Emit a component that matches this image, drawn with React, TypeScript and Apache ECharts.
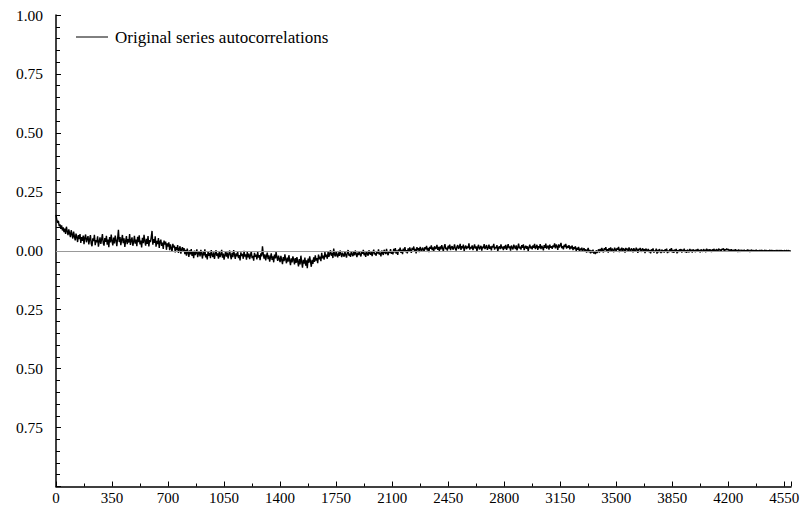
import React, { useEffect, useRef } from "react";
import * as echarts from "echarts";

const seriesName = "Original series autocorrelations";
const lagStep = 5;
const xTickValues = [0, 350, 700, 1050, 1400, 1750, 2100, 2450, 2800, 3150, 3500, 3850, 4200, 4550];
const yTickValues = [1.0, 0.75, 0.5, 0.25, 0.0, -0.25, -0.5, -0.75, -1.0];

// autocorrelation at lags 0, 5, 10, ... 4590, one row per 100 lags
const acfValues = [
  0.152, 0.131, 0.118, 0.127, 0.104, 0.112, 0.093, 0.108, 0.086, 0.099, 0.079, 0.094, 0.071, 0.102, 0.083, 0.066, 0.091, 0.074, 0.058, 0.087,
  0.069, 0.052, 0.081, 0.061, 0.044, 0.073, 0.058, 0.037, 0.066, 0.049, 0.071, 0.033, 0.058, 0.042, 0.064, 0.028, 0.055, 0.069, 0.036, 0.051,
  0.062, 0.027, 0.048, 0.066, 0.031, 0.019, 0.053, 0.041, 0.068, 0.024, 0.045, 0.036, 0.061, 0.017, 0.039, 0.057, 0.029, 0.048, 0.071, 0.033,
  0.022, 0.054, 0.038, 0.063, 0.026, 0.047, 0.015, 0.058, 0.035, 0.069, 0.041, 0.023, 0.056, 0.031, 0.064, 0.044, 0.019, 0.052, 0.089, 0.037,
  0.058, 0.024, 0.046, 0.067, 0.032, 0.053, 0.016, 0.041, 0.062, 0.028, 0.049, 0.035, 0.071, 0.025, 0.044, 0.057, 0.021, 0.038, 0.063, 0.030,
  0.047, 0.019, 0.059, 0.036, 0.065, 0.027, 0.043, 0.014, 0.055, 0.032, 0.068, 0.041, 0.022, 0.051, 0.029, 0.062, 0.018, 0.045, 0.037, 0.058,
  0.084, 0.026, 0.049, 0.033, 0.061, 0.017, 0.042, 0.028, 0.054, 0.012, 0.038, 0.047, 0.021, 0.035, 0.008, 0.043, 0.026, 0.039, 0.004, 0.031,
  0.018, 0.036, 0.002, 0.027, 0.011, -0.004, 0.029, 0.014, 0.022, -0.007, 0.016, 0.003, 0.024, -0.009, 0.008, 0.019, -0.012, 0.006, 0.015, -0.005,
  0.011, -0.014, 0.004, -0.021, 0.009, -0.008, -0.026, 0.002, -0.015, 0.007, -0.022, -0.003, -0.031, 0.001, -0.018, -0.009, 0.006, -0.027, -0.011, -0.002,
  -0.024, 0.004, -0.012, -0.033, -0.006, -0.019, 0.006, -0.028, -0.014, -0.037, -0.003, -0.021, -0.009, -0.031, 0.003, -0.017, -0.026, -0.007, -0.035, -0.013,
  0.002, -0.022, -0.011, -0.034, -0.005, -0.027, -0.016, 0.004, -0.029, -0.012, -0.038, -0.019, -0.002, -0.025, -0.008, -0.033, -0.014, 0.001, -0.021, -0.036,
  -0.009, -0.027, 0.003, -0.016, -0.035, -0.011, -0.024, -0.004, -0.031, -0.019, -0.041, -0.007, -0.022, -0.013, -0.034, 0.0, -0.025, -0.015, -0.038, -0.006,
  -0.028, -0.012, -0.036, -0.019, -0.003, -0.031, -0.022, -0.042, -0.009, -0.026, -0.016, -0.037, -0.005, -0.029, -0.018, -0.040, -0.011, -0.024, 0.019, -0.014,
  -0.033, -0.015, -0.041, -0.022, -0.008, -0.036, -0.019, -0.046, -0.027, -0.011, -0.039, -0.024, -0.049, -0.016, -0.032, -0.006, -0.028, -0.043, -0.021, -0.035,
  -0.048, -0.022, -0.039, -0.057, -0.027, -0.044, -0.015, -0.036, -0.053, -0.029, -0.046, -0.019, -0.041, -0.061, -0.032, -0.049, -0.024, -0.038, -0.058, -0.031,
  -0.052, -0.027, -0.045, -0.066, -0.035, -0.058, -0.021, -0.047, -0.072, -0.038, -0.055, -0.029, -0.063, -0.041, -0.074, -0.033, -0.051, -0.024, -0.046, -0.068,
  -0.039, -0.056, -0.028, -0.047, -0.019, -0.042, -0.031, -0.053, -0.016, -0.036, -0.025, -0.044, -0.009, -0.032, -0.021, -0.038, -0.006, -0.027, -0.017, -0.034,
  -0.004, -0.026, -0.013, 0.002, -0.021, -0.009, -0.031, 0.009, -0.016, -0.024, -0.003, -0.019, -0.028, -0.007, -0.022, 0.001, -0.014, -0.027, -0.008, -0.018,
  -0.025, -0.004, -0.017, -0.029, -0.009, 0.003, -0.021, -0.012, -0.026, -0.002, -0.015, -0.023, -0.006, -0.019, 0.001, -0.014, -0.027, -0.008, -0.018, -0.003,
  -0.016, -0.024, -0.005, -0.013, 0.004, -0.019, -0.008, -0.026, -0.002, -0.014, -0.021, 0.002, -0.011, -0.017, -0.004, -0.023, -0.007, 0.005, -0.015, -0.009,
  -0.021, -0.003, -0.012, 0.006, -0.016, -0.008, -0.024, 0.001, -0.010, -0.018, 0.004, -0.006, -0.014, 0.008, -0.011, -0.019, -0.002, -0.009, 0.007, -0.013,
  -0.004, -0.015, 0.008, -0.007, 0.011, -0.012, 0.002, -0.018, 0.006, -0.003, 0.013, -0.009, 0.004, -0.014, 0.009, -0.001, 0.015, -0.006, 0.003, -0.011,
  0.010, -0.005, 0.014, 0.001, -0.009, 0.012, 0.004, 0.018, -0.003, 0.008, -0.011, 0.015, 0.002, 0.011, -0.006, 0.016, 0.005, -0.002, 0.013, 0.007,
  -0.004, 0.015, 0.006, 0.021, 0.001, 0.012, -0.006, 0.017, 0.009, 0.023, 0.003, 0.014, -0.003, 0.019, 0.008, 0.011, 0.025, 0.004, 0.016, -0.001,
  0.018, 0.006, 0.024, 0.011, -0.002, 0.016, 0.028, 0.007, 0.013, 0.001, 0.021, 0.009, 0.026, 0.003, 0.015, 0.019, 0.005, 0.012, 0.027, 0.008,
  0.001, 0.017, 0.024, 0.008, 0.014, 0.029, 0.004, 0.019, 0.011, 0.026, -0.001, 0.015, 0.022, 0.007, 0.018, 0.012, 0.031, 0.005, 0.016, 0.010,
  0.023, 0.003, 0.014, 0.027, 0.009, 0.019, -0.002, 0.016, 0.025, 0.006, 0.013, 0.021, 0.001, 0.017, 0.011, 0.028, 0.007, 0.015, 0.024, 0.004,
  0.012, 0.026, 0.008, 0.018, 0.002, 0.021, 0.014, 0.029, 0.005, 0.016, 0.011, 0.024, -0.003, 0.013, 0.019, 0.007, 0.027, 0.010, 0.017, 0.003,
  0.020, 0.009, 0.025, 0.004, 0.015, 0.028, 0.011, 0.018, 0.001, 0.022, 0.013, 0.006, 0.026, 0.016, 0.008, 0.023, 0.002, 0.014, 0.030, 0.010,
  0.017, 0.005, 0.024, 0.012, 0.027, 0.003, 0.015, 0.021, 0.008, 0.019, -0.001, 0.014, 0.026, 0.010, 0.018, 0.006, 0.023, 0.013, 0.029, 0.007,
  0.016, 0.025, 0.004, 0.019, 0.011, 0.028, 0.007, 0.021, 0.014, 0.002, 0.024, 0.012, 0.030, 0.009, 0.017, 0.022, 0.005, 0.026, 0.013, 0.019,
  0.008, 0.023, 0.015, 0.031, 0.010, 0.026, 0.018, 0.004, 0.027, 0.014, 0.022, 0.033, 0.011, 0.019, 0.006, 0.025, 0.016, 0.029, 0.009, 0.020,
  0.013, 0.024, 0.006, 0.018, 0.010, 0.022, 0.003, 0.015, 0.008, 0.019, -0.001, 0.012, 0.005, 0.016, -0.003, 0.009, 0.002, 0.013, -0.005, 0.007,
  0.010, -0.004, 0.006, -0.008, 0.003, 0.012, -0.006, 0.004, -0.011, 0.001, -0.007, 0.005, -0.012, -0.002, -0.014, 0.002, -0.009, -0.003, 0.006, -0.008,
  0.008, -0.005, 0.012, 0.002, -0.007, 0.010, 0.004, 0.015, -0.003, 0.007, -0.008, 0.011, 0.001, 0.014, -0.004, 0.009, 0.003, -0.006, 0.013, 0.005,
  -0.002, 0.011, 0.004, 0.016, -0.006, 0.008, 0.001, 0.013, -0.004, 0.010, 0.006, -0.008, 0.012, 0.002, 0.009, -0.005, 0.014, 0.003, -0.002, 0.010,
  0.005, -0.007, 0.011, 0.001, -0.004, 0.013, 0.006, -0.009, 0.008, 0.002, 0.012, -0.005, 0.004, 0.010, -0.003, 0.007, -0.010, 0.009, 0.003, -0.002,
  0.008, -0.006, 0.003, -0.011, 0.006, -0.002, 0.010, -0.008, 0.001, -0.004, 0.009, -0.012, 0.004, -0.007, 0.007, -0.001, -0.010, 0.005, -0.005, 0.002,
  -0.008, 0.006, -0.003, 0.009, -0.010, 0.001, -0.006, 0.007, -0.002, 0.011, -0.007, 0.003, -0.009, 0.005, -0.004, 0.008, -0.011, 0.002, -0.005, 0.006,
  -0.001, 0.007, -0.008, 0.004, -0.003, 0.009, -0.006, 0.002, -0.009, 0.005, 0.0, -0.007, 0.008, -0.002, 0.004, -0.008, 0.006, -0.004, 0.003, -0.006,
  0.005, -0.004, 0.008, -0.002, 0.003, -0.007, 0.006, 0.0, -0.005, 0.007, -0.001, 0.004, -0.006, 0.009, -0.003, 0.005, -0.004, 0.006, 0.001, -0.005,
  0.006, -0.002, 0.008, 0.001, -0.004, 0.007, 0.003, -0.003, 0.009, 0.002, 0.005, -0.002, 0.008, 0.004, 0.010, -0.001, 0.006, 0.002, 0.009, 0.003,
  0.007, 0.0, 0.005, -0.003, 0.006, 0.001, -0.004, 0.004, -0.001, 0.006, -0.003, 0.003, -0.005, 0.005, 0.0, -0.004, 0.004, -0.002, 0.003, -0.003,
  0.004, -0.003, 0.002, -0.004, 0.005, -0.001, 0.003, -0.005, 0.001, 0.004, -0.002, 0.003, -0.004, 0.002, -0.001, 0.004, -0.003, 0.001, -0.004, 0.003,
  -0.002, 0.003, -0.001, 0.002, -0.003, 0.001, 0.003, -0.002, 0.002, -0.003, 0.001, -0.001, 0.003, -0.002, 0.002, -0.001, 0.002, -0.003, 0.001, -0.002,
  0.002, -0.001, 0.002, -0.002, 0.001, 0.0, 0.002, -0.001, 0.001, -0.002, 0.001, 0.0, -0.001, 0.002, -0.001, 0.001, 0.0, -0.001, 0.001,
];

const xMax = 4592;
const FONT = "Liberation Serif";

export default function App() {
  const ref = useRef<HTMLDivElement>(null);
  useEffect(() => {
    if (!ref.current) return;
    const chart = echarts.init(ref.current, undefined, { renderer: "svg" });
    const data = acfValues.map((v, i) => [i * lagStep, v]);
    chart.setOption({
      animation: false,
      backgroundColor: "#ffffff",
      textStyle: { fontFamily: FONT },
      grid: { left: 56, right: 14, top: 15, bottom: 22.5, containLabel: false },
      graphic: [
        {
          type: "line",
          shape: { x1: 76, y1: 37, x2: 108, y2: 37 },
          style: { stroke: "#000", lineWidth: 1 },
          z: 10,
        },
        {
          type: "text",
          x: 115,
          y: 37,
          style: {
            text: seriesName,
            fill: "#000",
            font: "17px Liberation Serif",
            verticalAlign: "middle",
            align: "left",
          },
          z: 10,
        },
      ],
      xAxis: {
        type: "value",
        min: 0,
        max: xMax,
        interval: 350,
        axisLine: { show: true, onZero: false, lineStyle: { color: "#000", width: 1.5 } },
        axisTick: { show: true, inside: true, length: 5, lineStyle: { color: "#000" } },
        minorTick: { show: true, splitNumber: 2, length: 3, lineStyle: { color: "#000" } },
        splitLine: { show: false },
        axisLabel: {
          color: "#000",
          fontFamily: FONT,
          fontSize: 15,
          margin: 4,
          showMaxLabel: false,
          formatter: (v: number) => (xTickValues.includes(v) ? String(v) : ""),
        },
      },
      yAxis: {
        type: "value",
        min: -1,
        max: 1,
        interval: 0.25,
        axisLine: { show: true, onZero: false, lineStyle: { color: "#000", width: 1.5 } },
        axisTick: { show: true, inside: true, length: 5, lineStyle: { color: "#000" } },
        minorTick: { show: true, splitNumber: 5, length: 4, lineStyle: { color: "#000" } },
        splitLine: { show: false },
        axisLabel: {
          color: "#000",
          fontFamily: FONT,
          fontSize: 15.5,
          margin: 13,
          formatter: (v: number) =>
            v <= -1 || !yTickValues.includes(v) ? "" : Math.abs(v).toFixed(2),
        },
      },
      series: [
        {
          name: seriesName,
          type: "line",
          data,
          symbol: "none",
          lineStyle: { color: "#000", width: 1.4 },
          itemStyle: { color: "#000" },
          markLine: {
            silent: true,
            symbol: "none",
            label: { show: false },
            lineStyle: { color: "#999", width: 1, type: "solid" },
            data: [{ yAxis: 0 }],
          },
          z: 3,
        },
      ],
    });
    return () => chart.dispose();
  }, []);
  return <div ref={ref} style={{ width: 805, height: 509, position: "absolute", left: 0, top: 0 }} />;
}
